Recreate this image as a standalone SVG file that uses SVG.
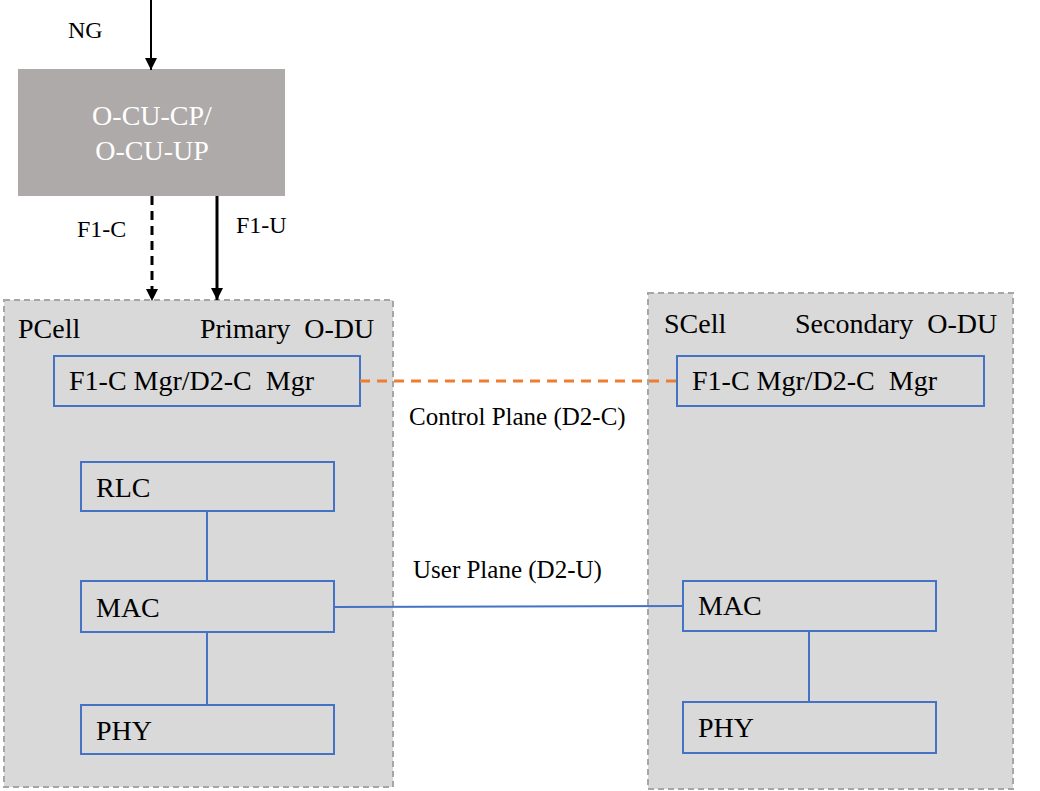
<svg xmlns="http://www.w3.org/2000/svg" width="1040" height="791" viewBox="0 0 1040 791">
<style>
text{font-family:"Liberation Serif","Times New Roman",serif;fill:#000}
.lbl{font-size:24px}
.pl{font-size:25px}
.big{font-size:28px}
.cell{fill:#D9D9D9;stroke:#A6A6A6;stroke-width:2;stroke-dasharray:6 4}
.blk{fill:none;stroke:#4472C4;stroke-width:2}
.ln{stroke:#4472C4;stroke-width:2;fill:none}
</style>
<defs>
<marker id="ah" viewBox="0 0 10 10" refX="10" refY="5" markerWidth="12" markerHeight="12" markerUnits="userSpaceOnUse" orient="auto">
<path d="M0,0 L10,5 L0,10 z" fill="#000"/>
</marker>
</defs>
<rect width="1040" height="791" fill="#fff"/>

<g id="ocu">
<rect x="18" y="69" width="267" height="127" fill="#AEAAAA"/>
<text class="big" x="152" y="125" text-anchor="middle" style="fill:#fff">O-CU-CP/</text>
<text class="big" x="152" y="160" text-anchor="middle" style="fill:#fff">O-CU-UP</text>
</g>

<g id="primary">
<rect class="cell" x="4" y="300" width="389" height="487"/>
<text class="big" x="18" y="338">PCell</text>
<text class="big" x="200" y="338" xml:space="preserve">Primary  O-DU</text>
</g>

<g id="secondary">
<rect class="cell" x="648" y="293" width="365" height="496"/>
<text class="big" x="664" y="333">SCell</text>
<text class="big" x="795" y="333" xml:space="preserve">Secondary  O-DU</text>
</g>

<g id="p-mgr">
<rect class="blk" x="54" y="356" width="306" height="50"/>
<text class="big" x="69" y="390" xml:space="preserve">F1-C Mgr/D2-C  Mgr</text>
</g>
<g id="p-rlc">
<rect class="blk" x="81" y="462" width="253" height="49"/>
<text class="big" x="96" y="497">RLC</text>
</g>
<g id="p-mac">
<rect class="blk" x="81" y="581" width="253" height="51"/>
<text class="big" x="96" y="617">MAC</text>
</g>
<g id="p-phy">
<rect class="blk" x="81" y="705" width="253" height="49"/>
<text class="big" x="96" y="740">PHY</text>
</g>

<g id="s-mgr">
<rect class="blk" x="677" y="356" width="307" height="50"/>
<text class="big" x="692" y="390" xml:space="preserve">F1-C Mgr/D2-C  Mgr</text>
</g>
<g id="s-mac">
<rect class="blk" x="683" y="581" width="253" height="50"/>
<text class="big" x="698" y="615">MAC</text>
</g>
<g id="s-phy">
<rect class="blk" x="683" y="702" width="253" height="51"/>
<text class="big" x="698" y="737">PHY</text>
</g>

<g id="connectors">
<line x1="151" y1="0" x2="151" y2="70" stroke="#000" stroke-width="2" marker-end="url(#ah)"/>
<line x1="152" y1="196" x2="152" y2="301" stroke="#000" stroke-width="3" stroke-dasharray="9 6" marker-end="url(#ah)"/>
<line x1="217" y1="196" x2="217" y2="300" stroke="#000" stroke-width="3" marker-end="url(#ah)"/>
<line class="ln" x1="207" y1="511" x2="207" y2="581"/>
<line class="ln" x1="207" y1="632" x2="207" y2="705"/>
<line class="ln" x1="809" y1="631" x2="809" y2="702"/>
<line x1="360" y1="381" x2="677" y2="381" stroke="#ED7D31" stroke-width="3" stroke-dasharray="10 7"/>
<line class="ln" x1="334" y1="607" x2="683" y2="606" stroke-width="2.5"/>
</g>

<g id="labels">
<text class="lbl" x="68" y="38">NG</text>
<text class="lbl" x="77" y="237">F1-C</text>
<text class="lbl" x="236" y="233">F1-U</text>
<text class="pl" x="409" y="425">Control Plane (D2-C)</text>
<text class="pl" x="413" y="578">User Plane (D2-U)</text>
</g>
</svg>
